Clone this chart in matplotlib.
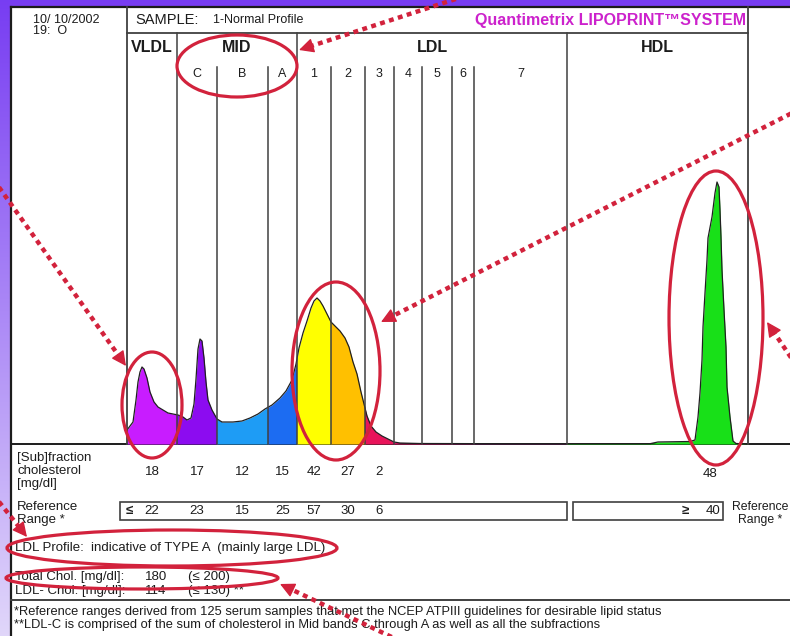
import numpy as np
import matplotlib.pyplot as plt
import matplotlib.transforms as mtransforms
from matplotlib.patches import Ellipse, Rectangle

plt.rcParams["font.family"] = ["Liberation Sans", "DejaVu Sans"]

# densitometric scan of the gel: migration position vs. stain intensity
position = [127, 130, 133, 136, 138, 140, 142, 144, 147, 150, 154, 158, 163, 168,
            173, 178, 183, 187, 191, 194, 196, 198, 200, 202, 204, 206, 208, 212,
            217, 222, 233, 242, 250, 258, 265, 272, 280, 286, 292, 296, 299, 303,
            307, 311, 314, 317, 320, 323, 327, 331, 335, 340, 345, 349, 353, 357,
            361, 364, 367, 371, 376, 382, 388, 394, 400, 420, 500, 567, 650, 658,
            690, 695, 698, 700, 702, 703, 705, 707, 708, 712, 715, 717, 719, 720,
            721, 722, 724, 726, 727, 730, 733, 736, 748]
intensity = [14, 18, 22, 44, 62, 72, 77, 75, 66, 52, 42, 37, 34, 31,
             30, 29, 27, 24, 26, 40, 65, 95, 105, 103, 86, 62, 44, 34,
             25, 22, 22, 23, 26, 30, 35, 39, 46, 53, 64, 80, 96, 111,
             123, 136, 143, 146, 143, 138, 130, 122, 118, 113, 106, 97, 82, 70,
             52, 40, 28, 18, 12, 8, 5, 2, 1, 0.5, 0.3, 0.3, 0.3, 2,
             2.5, 4, 27, 51, 84, 117, 151, 184, 206, 227, 251, 262, 257, 234,
             207, 174, 134, 97, 57, 27, 3, 0.5, 0]

band_labels = ["C", "B", "A", "1", "2", "3", "4", "5", "6", "7"]
band_edges = [127, 177, 217, 268, 297, 331, 365, 394, 422, 452, 474, 567, 748]
band_colors = ["#c81cff", "#8c0cf0", "#1e9cf5", "#1c6cf2", "#ffff00", "#ffc000",
               "#e8145a", "#d01060", "#b01060", "#901060", "#701060", "#18e018"]
major_edges = [177, 297, 567]

subfraction_chol = ["18", "17", "12", "15", "42", "27", "2"]
ref_range = ["22", "23", "15", "25", "57", "30", "6"]
hdl_chol = "48"
hdl_ref = "40"

RED = "#d2223c"
INK = "#1c1c1c"
LINE = "#404040"

fig = plt.figure(figsize=(7.9, 6.36), dpi=100)

# page: slide background + report frame, in pixel units
page = fig.add_axes([0, 0, 1, 1], zorder=0)
page.axis("off")

top_c = np.array([0.47, 0.24, 0.95])
bot_c = np.array([0.88, 0.84, 0.98])
t = np.linspace(0, 1, 200)[:, None, None]
grad = top_c * (1 - t) + bot_c * t
page.imshow(grad, extent=[0, 790, 636, 0], aspect="auto", interpolation="bilinear")
page.add_patch(Rectangle((11, 7), 790, 640, facecolor="white", edgecolor="none"))
page.set_xlim(0, 790)
page.set_ylim(636, 0)

# profile axes
prof = fig.add_axes([127 / 790, 1 - 444 / 636, (748 - 127) / 790, (444 - 33) / 636],
                    zorder=1)
prof.set_xlim(band_edges[0], band_edges[-1])
prof.set_ylim(0, 444 - 33)
prof.axis("off")
prof.patch.set_alpha(0)

tr = mtransforms.blended_transform_factory(prof.transData, page.transData)

for lo, hi, col in zip(band_edges[:-1], band_edges[1:], band_colors):
    poly = prof.fill_between(position, 0, intensity, color=col, lw=0, zorder=1)
    poly.set_clip_path(Rectangle((lo, 0), hi - lo, 500, transform=prof.transData))
prof.plot(position, intensity, color="#202020", lw=0.9, zorder=2)

# band boundaries
for x in band_edges[1:-1]:
    y0 = 33 if x in major_edges else 67
    prof.plot([x, x], [y0, 444], transform=tr, color=LINE, lw=1.1,
              clip_on=False, zorder=3)
for x in (band_edges[0], band_edges[-1]):
    prof.plot([x, x], [7, 444], transform=tr, color=LINE, lw=1.3,
              clip_on=False, zorder=3)

# frame lines
page.plot([11, 790], [7, 7], color=INK, lw=1.6)
page.plot([11, 11], [7, 636], color=INK, lw=1.6)
page.plot([127, 748], [33, 33], color=LINE, lw=1.3)
page.plot([11, 790], [444, 444], color=INK, lw=1.4)
page.plot([11, 790], [600, 600], color=LINE, lw=1.4)

fs = 9.5
# header
page.text(33, 20, "10/ 10/2002", fontsize=9, va="center", color=INK)
page.text(33, 31, "19:  O", fontsize=9, va="center", color=INK)
page.text(135, 20, "SAMPLE:", fontsize=10.5, va="center", color=INK)
page.text(213, 20, "1-Normal Profile", fontsize=9, va="center", color=INK)
page.text(746, 20, "Quantimetrix LIPOPRINT\u2122SYSTEM", fontsize=11.5, ha="right",
          va="center", color="#cc22cc", fontweight="bold")

centers = [(lo + hi) / 2 for lo, hi in zip(band_edges[:-1], band_edges[1:])]
groups = [("VLDL", band_edges[0], band_edges[1]), ("MID", band_edges[1], band_edges[4]),
          ("LDL", band_edges[4], band_edges[11]), ("HDL", band_edges[11], band_edges[12])]
for name, lo, hi in groups:
    page.text((lo + hi) / 2, 47, name, transform=tr, ha="center", va="center",
              fontsize=11.5, fontweight="bold", color=INK)
for lab, cx in zip(band_labels, centers[1:11]):
    page.text(cx, 74, lab, transform=tr, ha="center", va="center", fontsize=9, color=INK)

# subfraction values
page.text(17, 458, "[Sub]fraction", fontsize=fs, va="center", color=INK)
page.text(17, 471, "cholesterol", fontsize=fs, va="center", color=INK)
page.text(17, 484, "[mg/dl]", fontsize=fs, va="center", color=INK)
for val, cx in zip(subfraction_chol, centers):
    page.text(cx, 472, val, transform=tr, ha="center", va="center", fontsize=fs, color=INK)
page.text(710, 474, hdl_chol, transform=tr, ha="center", va="center", fontsize=fs, color=INK)

# reference ranges
page.text(17, 507, "Reference", fontsize=fs, va="center", color=INK)
page.text(17, 520, "Range *", fontsize=fs, va="center", color=INK)
page.add_patch(Rectangle((120, 502), 447, 18, fill=False, ec=LINE, lw=1.2))
page.add_patch(Rectangle((573, 502), 150, 18, fill=False, ec=LINE, lw=1.2))
page.text(126, 511, "\u2264", fontsize=fs, va="center", color=INK, fontweight="bold")
for val, cx in zip(ref_range, centers):
    page.text(cx, 511, val, transform=tr, ha="center", va="center", fontsize=fs, color=INK)
page.text(682, 511, "\u2265", fontsize=fs, va="center", color=INK, fontweight="bold")
page.text(720, 511, hdl_ref, ha="right", va="center", fontsize=fs, color=INK)
page.text(760, 507, "Reference", fontsize=8.8, ha="center", va="center", color=INK)
page.text(760, 520, "Range *", fontsize=8.8, ha="center", va="center", color=INK)

# summary
page.text(15, 548, "LDL Profile:  indicative of TYPE A  (mainly large LDL)",
          fontsize=fs, va="center", color=INK)
page.text(15, 577, "Total Chol. [mg/dl]:", fontsize=fs, va="center", color=INK)
page.text(145, 577, "180", fontsize=fs, va="center", color=INK)
page.text(188, 577, "(\u2264 200)", fontsize=fs, va="center", color=INK)
page.text(15, 591, "LDL- Chol. [mg/dl]:", fontsize=fs, va="center", color=INK)
page.text(145, 591, "114", fontsize=fs, va="center", color=INK)
page.text(188, 591, "(\u2264 130) **", fontsize=fs, va="center", color=INK)

page.text(14, 612, "*Reference ranges derived from 125 serum samples that met the NCEP "
          "ATPIII guidelines for desirable lipid status", fontsize=9.3, va="center", color=INK)
page.text(14, 625, "**LDL-C is comprised of the sum of cholesterol in Mid bands C through A "
          "as well as all the subfractions", fontsize=9.3, va="center", color=INK)

# red callouts
ann = fig.add_axes([0, 0, 1, 1], zorder=5)
ann.set_xlim(0, 790)
ann.set_ylim(636, 0)
ann.axis("off")
ann.patch.set_alpha(0)

ellipses = [((237, 66), 120, 62), ((152, 405), 60, 106), ((336, 371), 88, 178),
            ((716, 318), 94, 294), ((172, 548), 330, 36), ((142, 578), 272, 22)]
for c, w, h in ellipses:
    ann.add_patch(Ellipse(c, w, h, fill=False, ec=RED, lw=2.3))

arrows = [((465, -4), (299, 50)), ((-4, 183), (126, 366)), ((794, 112), (381, 322)),
          ((794, 362), (767, 322)), ((-4, 498), (27, 537)), ((398, 640), (280, 584))]
for tail, head in arrows:
    tail = np.array(tail, float)
    head = np.array(head, float)
    d = (head - tail) / np.hypot(*(head - tail))
    stop = head - d * 10
    ann.plot([tail[0], stop[0]], [tail[1], stop[1]], color=RED, lw=3.2,
             linestyle=(0, (1.1, 1.0)), dash_capstyle="butt", clip_on=False)
    ann.annotate("", xy=head, xytext=head - d * 14,
                 arrowprops=dict(arrowstyle="-|>,head_length=0.9,head_width=0.45",
                                 color=RED, lw=1, mutation_scale=10,
                                 shrinkA=0, shrinkB=0))

fig.savefig("out.png", dpi=100)
